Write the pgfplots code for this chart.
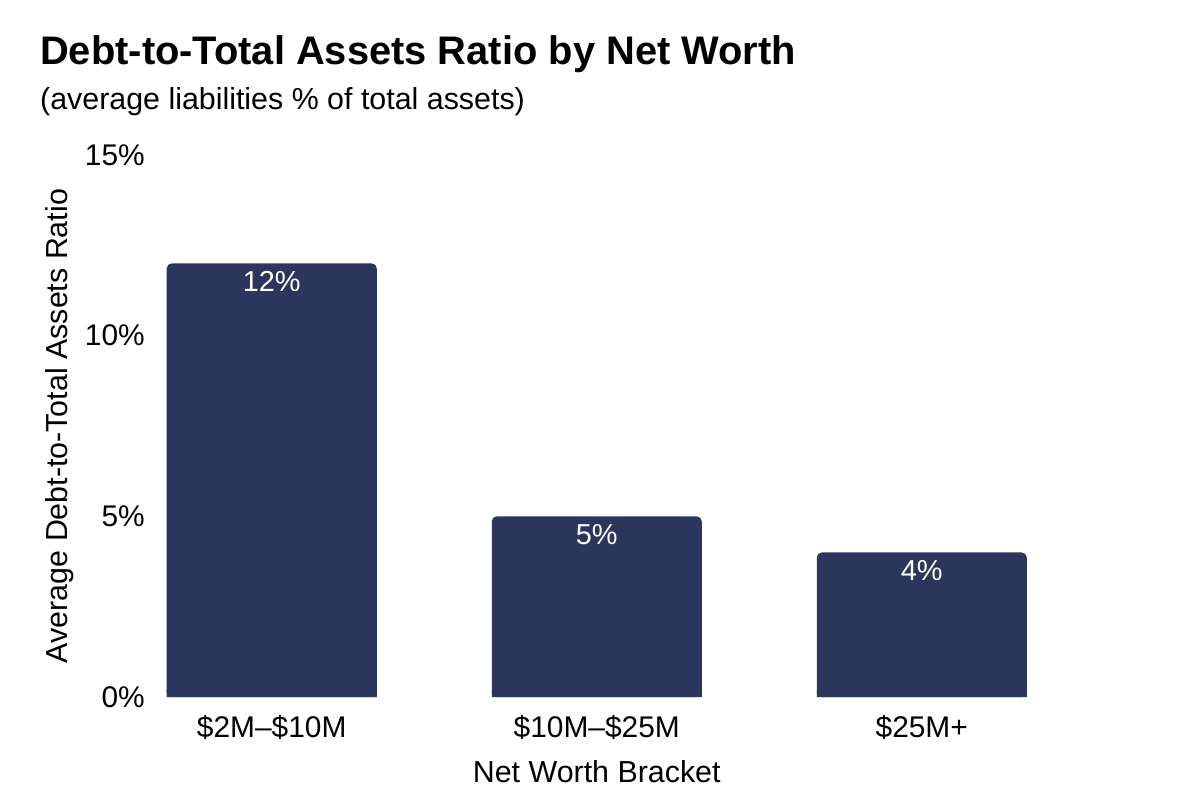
\documentclass[border=0pt]{standalone}
\usepackage{pgfplots}
\pgfplotsset{compat=1.18}
\usepackage{fontspec}
\setmainfont{Liberation Sans}
\definecolor{barc}{HTML}{2C355C}
\begin{document}
\begin{tikzpicture}
\path[use as bounding box] (-158bp,-103bp) rectangle (1042bp,697bp);
\node[anchor=base west, inner sep=0pt, font=\fontsize{40}{44}\selectfont\bfseries] at (-118bp,632bp) {Debt-to-Total Assets Ratio by Net Worth};
\node[anchor=base west, inner sep=0pt, font=\fontsize{30.5}{34}\selectfont] at (-118bp,587bp) {(average liabilities \% of total assets)};
\begin{axis}[
  at={(0,0)}, anchor=south west,
  scale only axis, width=877.5bp, height=542bp,
  xmin=-0.35, xmax=2.35, ymin=0, ymax=15,
  axis line style={draw=none},
  clip=false,
  xtick={0,1,2}, xticklabels={\$2M–\$10M,\$10M–\$25M,\$25M+},
  ytick={0,5,10,15},
  yticklabel={\pgfmathprintnumber{\tick}\%},
  /pgf/number format/assume math mode=true,
  tick label style={font=\fontsize{30}{34}\selectfont},
  xticklabel style={anchor=base, yshift=-40bp, inner sep=0pt},
  yticklabel style={anchor=east, xshift=-13bp, inner sep=0pt},
  major tick length=0pt,
  xlabel={Net Worth Bracket},
  ylabel={Average Debt-to-Total Assets Ratio},
  label style={font=\fontsize{30.5}{34}\selectfont},
  xlabel style={at={(axis description cs:0.5,0)}, anchor=base, yshift=-85bp, inner sep=0pt},
  ylabel style={at={(axis description cs:-0.1117,0.5)}, anchor=center, inner sep=0pt},
  ybar, bar width=210bp,
]
\addplot[fill=barc, draw=none, bar shift=0pt, rounded corners=5bp,
  nodes near coords={\pgfmathprintnumber{\pgfplotspointmeta}\%},
  nodes near coords style={anchor=north, yshift=-8bp, inner sep=0pt, text=white, font=\fontsize{29}{32}\selectfont}]
  coordinates {(0,12) (1,5) (2,4)};
\addplot[fill=barc, draw=none, bar shift=0pt] coordinates {(0,0.2) (1,0.2) (2,0.2)};
\end{axis}
\end{tikzpicture}
\end{document}
